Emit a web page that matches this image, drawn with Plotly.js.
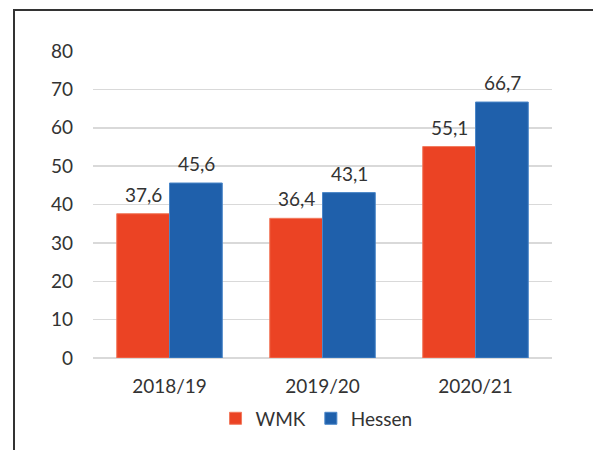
<!DOCTYPE html>
<html>
<head>
<meta charset="utf-8">
<script src="https://cdn.plot.ly/plotly-3.0.1.min.js"></script>
<style>
  html, body { margin: 0; padding: 0; background: #fff; overflow: hidden; }
  #chart { position: absolute; left: 0; top: 0; width: 593px; height: 450px; }
  #frame { position: absolute; left: 13px; top: 9px; width: 800px; height: 800px;
           border-left: 2px solid #333; border-top: 2px solid #333; pointer-events: none; }
</style>
</head>
<body>
<div id="chart"></div>
<div id="frame"></div>
<script>
const categories = ['2018/19', '2019/20', '2020/21'];
const seriesNames = ['WMK', 'Hessen'];
const wmkValues = [37.6, 36.4, 55.1];
const hessenValues = [45.6, 43.1, 66.7];
const yTicks = [0, 10, 20, 30, 40, 50, 60, 70, 80];

const colors = ['#EB4324', '#1F60AB'];
const lineColors = ['#F27A5E', '#4A86C8'];
const FONT = 'Lato, "Open Sans", sans-serif';
const TEXT = '#333333';

const seriesValues = [wmkValues, hessenValues];

const traces = seriesValues.map((vals, i) => ({
  type: 'bar',
  name: seriesNames[i],
  x: categories,
  y: vals,
  marker: { color: colors[i], line: { color: lineColors[i], width: 1 } },
  hoverinfo: 'none'
}));

const annotations = [];
seriesValues.forEach((vals, i) => {
  vals.forEach((v, j) => {
    annotations.push({
      x: categories[j], y: v, xref: 'x', yref: 'y',
      text: v.toFixed(1).replace('.', ','),
      showarrow: false, yanchor: 'bottom', xanchor: 'center',
      xshift: (i === 0 ? -26.5 : 26.5), yshift: 6,
      font: { family: FONT, size: 19, color: TEXT }
    });
  });
});

const layout = {
  width: 593, height: 450,
  margin: { l: 93, r: 41, t: 51, b: 87 },
  paper_bgcolor: 'rgba(0,0,0,0)',
  plot_bgcolor: 'rgba(0,0,0,0)',
  barmode: 'group',
  bargap: 0.31,
  bargroupgap: 0,
  separators: ',.',
  font: { family: FONT, size: 19, color: TEXT },
  xaxis: {
    type: 'category',
    showgrid: false, zeroline: false, showline: false,
    ticks: '', tickfont: { family: FONT, size: 19, color: TEXT },
    ticklabelstandoff: 15
  },
  yaxis: {
    range: [0, 80],
    tickvals: yTicks,
    ticktext: yTicks.map(String),
    showgrid: true, gridcolor: '#D9D9D9', gridwidth: 1.5,
    zeroline: true, zerolinecolor: '#D9D9D9', zerolinewidth: 1.5,
    showline: false, ticks: '',
    tickfont: { family: FONT, size: 19, color: TEXT },
    ticklabelstandoff: 19
  },
  showlegend: true,
  legend: {
    orientation: 'h', x: 0.487, xanchor: 'center', y: -0.135, yanchor: 'top',
    font: { family: FONT, size: 19, color: TEXT },
    itemwidth: 30, traceorder: 'normal'
  },
  annotations: annotations
};

Plotly.newPlot('chart', traces, layout, { staticPlot: true, displayModeBar: false });
</script>
</body>
</html>
